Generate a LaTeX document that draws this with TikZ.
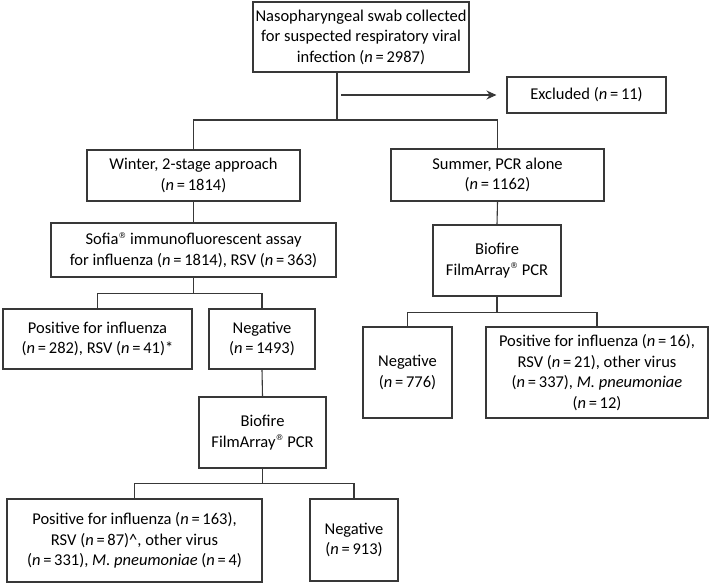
\documentclass[tikz,border=0pt]{standalone}
\usepackage{fontspec}
\setmainfont{Carlito}
\newfontfamily\regfont{DejaVu Sans}
\usetikzlibrary{arrows.meta}

\newcommand{\nval}[1]{\textit{n}\,=\,#1}
\newcommand{\regm}{\raisebox{0.8ex}{\regfont\fontsize{8}{8}\selectfont ®}}

\tikzset{every picture/.style={line width=1.1pt}}
\tikzset{flowbox/.style={draw=black!78, rectangle, align=center, inner sep=2pt, font=\fontsize{16.5}{20.5}\selectfont},
         flowline/.style={draw=black!78}}

\begin{document}
\begin{tikzpicture}[x=1pt,y=1pt,yscale=-1,xscale=1]
\useasboundingbox (0,0) rectangle (711,583);

%Boxes, first level
\node [flowbox, minimum width=216, minimum height=70] (swab) at (361,37) {Nasopharyngeal swab collected\\for suspected respiratory viral\\infection (\nval{2987})};
\node [flowbox, minimum width=159, minimum height=36] (excl) at (586.5,95) {Excluded (\nval{11})};

%Boxes, winter side
\node [flowbox, minimum width=213, minimum height=51] (winter) at (193.5,175.5) {Winter, 2-stage approach\\(\nval{1814})};
\node [flowbox, minimum width=285, minimum height=54] (sofia) at (193.5,250) {Sofia\regm{} immunofluorescent assay\\for influenza (\nval{1814}), RSV (\nval{363})};
\node [flowbox, minimum width=189, minimum height=60] (posA) at (97.5,339) {Positive for influenza\\(\nval{282}), RSV (\nval{41})*};
\node [flowbox, minimum width=106, minimum height=60] (negA) at (262,339) {Negative\\(\nval{1493})};
\node [flowbox, minimum width=127, minimum height=71] (pcrA) at (262.5,432.5) {Biofire\\FilmArray\regm{} PCR};
\node [flowbox, minimum width=255, minimum height=83] (posB) at (134.5,540.5) {Positive for influenza (\nval{163}),\\RSV (\nval{87})\textasciicircum, other virus\\(\nval{331}), \textit{M. pneumoniae} (\nval{4})};
\node [flowbox, minimum width=88, minimum height=82] (negB) at (354,540) {Negative\\(\nval{913})};

%Boxes, summer side
\node [flowbox, minimum width=213, minimum height=52] (summer) at (497.5,175) {Summer, PCR alone\\(\nval{1162})};
\node [flowbox, minimum width=128, minimum height=71] (pcrB) at (497,260.5) {Biofire\\FilmArray\regm{} PCR};
\node [flowbox, minimum width=89, minimum height=91] (negC) at (407.5,372.5) {Negative\\(\nval{776})};
\node [flowbox, minimum width=222, minimum height=91] (posC) at (597,372.5) {Positive for influenza (\nval{16}),\\RSV (\nval{21}), other virus\\(\nval{337}), \textit{M. pneumoniae}\\(\nval{12})};

%Split below the first box
\coordinate (split) at (337,120);
\coordinate (exclfrom) at (341,95);
\draw [flowline] (split |- swab.south) -- (split);
\draw [flowline] (winter.north) |- (split) -| (summer.north);
\draw [flowline, -{Stealth[length=10pt,width=9pt]}] (exclfrom) -- ([xshift=-10pt]excl.west);

%Winter connectors
\draw [flowline] (winter.south) -- (sofia.north);
\draw [flowline] (sofia.south) -- ++(0,16) coordinate (splitA);
\draw [flowline] (posA.north) |- (splitA) -| (negA.north);
\draw [flowline] (negA.south) -- (pcrA.north);
\draw [flowline] (pcrA.south) -- ++(0,15) coordinate (splitB);
\draw [flowline] (posB.north) |- (splitB) -| (negB.north);

%Summer connectors
\draw [flowline] (summer.south) -- (pcrB.north);
\draw [flowline] (pcrB.south) -- ++(0,16) coordinate (splitC);
\draw [flowline] (negC.north) |- (splitC) -| (posC.north);

\end{tikzpicture}
\end{document}
